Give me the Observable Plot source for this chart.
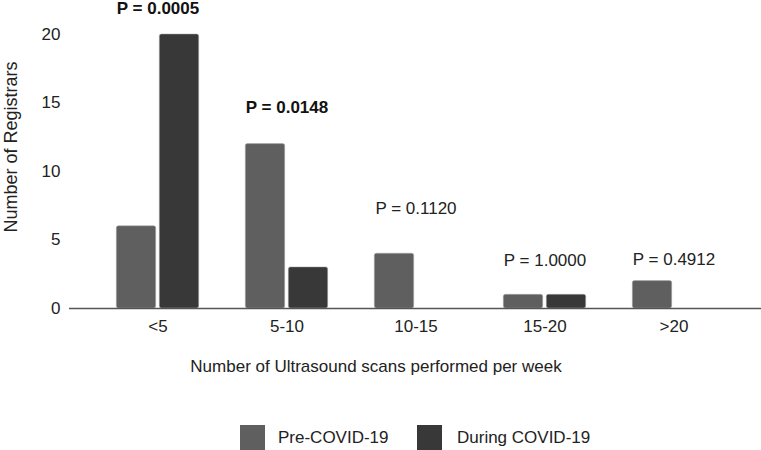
<!DOCTYPE html>
<html>
<head>
<meta charset="utf-8">
<script src="https://cdn.jsdelivr.net/npm/d3@7"></script>
<script src="https://cdn.jsdelivr.net/npm/@observablehq/plot@0.6"></script>
<style>
  html, body { margin: 0; padding: 0; background: #fff; }
  body { position: relative; width: 761px; height: 450px; overflow: hidden; font-family: "Liberation Sans", Arial, sans-serif; color: #222; }
  #chart svg { display: block; }
  .sw { position: absolute; width: 25px; height: 25px; }
  .lt { position: absolute; line-height: 25px; font-size: 17px; }
  #xtitle { position: absolute; left: 376px; top: 367px; transform: translate(-50%, -50%); font-size: 17px; white-space: nowrap; }
  #ytitle { position: absolute; left: 11px; top: 147px; transform: translate(-50%, -50%) rotate(-90deg); font-size: 18px; white-space: nowrap; }
</style>
</head>
<body>
<div id="chart"></div>
<div id="xtitle"></div>
<div id="ytitle"></div>
<script>
const categories = ["<5", "5-10", "10-15", "15-20", ">20"];
const seriesNames = ["Pre-COVID-19", "During COVID-19"];
const preCovid = [6, 12, 4, 1, 2];
const duringCovid = [20, 3, 0, 1, 0];
const pLabels = ["P = 0.0005", "P = 0.0148", "P = 0.1120", "P = 1.0000", "P = 0.4912"];
const pBold = [true, true, false, false, false];
const pLabelY = [21.9, 14.7, 7.3, 3.5, 3.55];
const yTicks = [0, 5, 10, 15, 20];
const xTitle = "Number of Ultrasound scans performed per week";
const yTitle = "Number of Registrars";
const colors = ["#5f5f5f", "#383838"];

const preRows = categories.map((c, i) => ({category: c, series: seriesNames[0], value: preCovid[i]}));
const duringRows = categories.map((c, i) => ({category: c, series: seriesNames[1], value: duringCovid[i]}));
const pRows = categories.map((c, i) => ({category: c, label: pLabels[i], bold: pBold[i], y: pLabelY[i]}));

const barStyle = {x: "category", y: "value", fill: "series", rx: 2, stroke: "#aaa", strokeWidth: 0.5, insetLeft: 44.8, insetRight: 44.8};

const chart = Plot.plot({
  width: 761,
  height: 400,
  marginLeft: 69,
  marginRight: 0,
  marginTop: 34,
  marginBottom: 92,
  style: {fontFamily: "'Liberation Sans', Arial, sans-serif", fontSize: "17px", color: "#222", background: "#fff"},
  x: {domain: categories, paddingInner: 0, paddingOuter: 0.17, label: null, tickSize: 0, tickPadding: 11},
  y: {domain: [0, 20], ticks: yTicks, tickSize: 0, tickPadding: 9, label: null},
  color: {domain: seriesNames, range: colors},
  marks: [
    Plot.barY(preRows, {...barStyle, dx: -21.5}),
    Plot.barY(duringRows, {...barStyle, dx: 21.5}),
    Plot.ruleY([0], {stroke: "#555", strokeWidth: 1.5}),
    Plot.text(pRows.filter(d => d.bold), {x: "category", y: "y", text: "label", fontWeight: "bold", fontSize: 17, fill: "#111"}),
    Plot.text(pRows.filter(d => !d.bold), {x: "category", y: "y", text: "label", fontSize: 17, fill: "#222"})
  ]
});
document.getElementById("chart").appendChild(chart);

document.getElementById("xtitle").textContent = xTitle;
document.getElementById("ytitle").textContent = yTitle;

const legendPos = [[240, 278], [417, 457]];
seriesNames.forEach((s, i) => {
  const sw = document.createElement("div");
  sw.className = "sw";
  sw.style.left = legendPos[i][0] + "px";
  sw.style.top = "425px";
  sw.style.background = colors[i];
  document.body.appendChild(sw);
  const t = document.createElement("div");
  t.className = "lt";
  t.style.left = legendPos[i][1] + "px";
  t.style.top = "425px";
  t.textContent = s;
  document.body.appendChild(t);
});
</script>
</body>
</html>
